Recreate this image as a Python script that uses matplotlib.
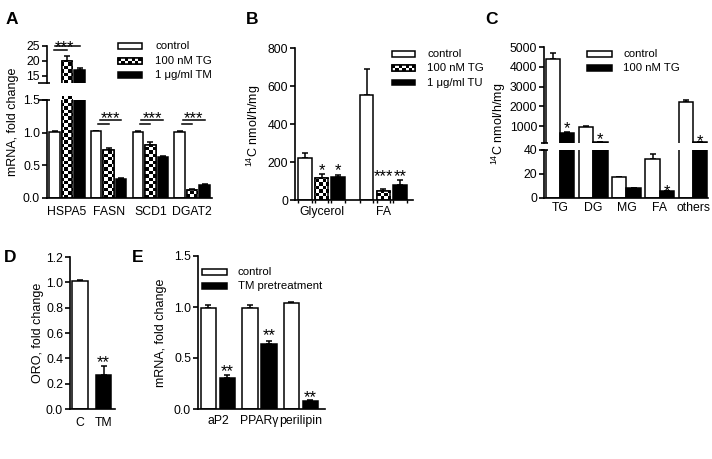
import numpy as np
import matplotlib
matplotlib.use('Agg')
import matplotlib.pyplot as plt
from matplotlib.patches import Rectangle

plt.rcParams['font.family'] = ['Liberation Sans', 'DejaVu Sans']
plt.rcParams['mathtext.fontset'] = 'custom'
plt.rcParams['mathtext.rm'] = 'Liberation Sans'
plt.rcParams['mathtext.it'] = 'Liberation Sans:italic'

# ---- data ----
# A: mRNA fold change
a_genes = ['HSPA5', 'FASN', 'SCD1', 'DGAT2']
a_ctrl = [1.01, 1.02, 1.01, 1.01]
a_ctrl_err = [0.01, 0.01, 0.01, 0.01]
a_tg = [20.1, 0.73, 0.81, 0.13]
a_tg_err = [1.6, 0.04, 0.05, 0.01]
a_tm = [16.8, 0.29, 0.63, 0.20]
a_tm_err = [0.6, 0.01, 0.01, 0.01]

# B: 14C incorporation
b_groups = ['Glycerol', 'FA']
b_ctrl = [220, 555]
b_ctrl_err = [28, 137]
b_tg = [117, 48]
b_tg_err = [22, 8]
b_tu = [122, 79]
b_tu_err = [12, 26]
b_stars_tg = ['*', '***']
b_stars_tu = ['*', '**']

# C: lipid species
c_groups = ['TG', 'DG', 'MG', 'FA', 'others']
c_ctrl = [4380, 960, 17.5, 32.5, 2230]
c_ctrl_err = [330, 25, 0.4, 4.0, 90]
c_tg = [650, 190, 8.0, 5.5, 190]
c_tg_err = [50, 0, 0.4, 0.5, 0]
c_stars = ['*', '*', '', '*', '*']

# D: ORO
d_labels = ['C', 'TM']
d_vals = [1.01, 0.27]
d_err = [0.01, 0.07]

# E: adipogenic markers
e_genes = ['aP2', 'PPAR\u03b3', 'perilipin']
e_ctrl = [0.99, 0.99, 1.04]
e_ctrl_err = [0.03, 0.03, 0.01]
e_tm = [0.30, 0.64, 0.075]
e_tm_err = [0.03, 0.03, 0.01]

W, H = 712, 459
fig = plt.figure(figsize=(W / 100, H / 100), dpi=100)
LW = 1.2
CELL = 3.4


def add_ax(l, t, r, b):
    ax = fig.add_axes([l / W, 1 - b / H, (r - l) / W, (b - t) / H])
    ax.set_facecolor('none')
    for s in ['top', 'right']:
        ax.spines[s].set_visible(False)
    for s in ['left', 'bottom']:
        ax.spines[s].set_linewidth(LW)
    ax.tick_params(axis='y', length=3.5, width=LW, labelsize=8.8, pad=1.5)
    ax.tick_params(axis='x', length=0, labelsize=8.8)
    return ax


def checker(ax, patch, transform, extent, nx, ny):
    arr = np.indices((ny, nx)).sum(axis=0) % 2
    im = ax.imshow(arr, cmap='gray', vmin=0, vmax=1, interpolation='nearest',
                   aspect='auto', extent=extent, transform=transform,
                   zorder=patch.get_zorder() + 0.1)
    im.set_clip_path(patch)


def bars(ax, x, vals, errs, width, kind):
    fc = 'black' if kind == 'black' else 'white'
    b = ax.bar(x, vals, width, color=fc, edgecolor='black', linewidth=1.1, zorder=2)
    if kind == 'check':
        pos = ax.get_position()
        wpx, hpx = pos.width * W, pos.height * H
        nx, ny = int(wpx / CELL) + 2, int(hpx / CELL) + 2
        for p in b:
            checker(ax, p, ax.transAxes, (0, nx * CELL / wpx, 0, ny * CELL / hpx), nx, ny)
        ax.bar(x, vals, width, fill=False, edgecolor='black', linewidth=1.1, zorder=2.5)
    ax.errorbar(x, vals, yerr=[np.zeros(len(vals)), errs], fmt='none', ecolor='black',
                elinewidth=1.1, capsize=2.5, capthick=1.1, zorder=1.5)


def stub(ax, y, left_px, right_px):
    wpx = ax.get_position().width * W
    ax.plot([-left_px / wpx, right_px / wpx], [y, y], transform=ax.transAxes,
            color='black', lw=LW, clip_on=False, solid_capstyle='butt')


def star(ax, s, x, y, size=12):
    ax.annotate(s, (x, y), xytext=(0, -3.8), textcoords='offset points',
                ha='center', va='center', fontsize=size, annotation_clip=False)


# ---------- Panel A ----------
xa = np.arange(len(a_genes))
wa, oa = 0.25, 0.30
axA_top = add_ax(47, 46, 212, 83)
axA = add_ax(47, 100, 212, 198)
for ax in (axA_top, axA):
    bars(ax, xa - oa, a_ctrl, a_ctrl_err, wa, 'white')
    bars(ax, xa, a_tg, a_tg_err, wa, 'check')
    bars(ax, xa + oa, a_tm, a_tm_err, wa, 'black')
    ax.set_xlim(-0.48, 3.48)
axA_top.set_ylim(12.5, 25)
axA_top.set_yticks([15, 20, 25])
axA_top.spines['bottom'].set_visible(False)
axA_top.set_xticks([])
stub(axA_top, 0, 9, 3)
axA.set_ylim(0, 1.5)
axA.set_yticks([0, 0.5, 1.0, 1.5], ['0.0', '0.5', '1.0', '1.5'])
axA.set_xticks(xa, a_genes)
axA.tick_params(axis='x', pad=5.5)
stub(axA, 1, 9, 3)
# significance
axA_top.plot([-0.3, 0.3], [25.0, 25.0], color='black', lw=1.1, clip_on=False)
axA_top.plot([-0.32, 0.0], [23.7, 23.7], color='black', lw=1.1, clip_on=False)
star(axA_top, '***', -0.05, 26.4)
for g in xa[1:]:
    axA.plot([g - 0.22, g + 0.3], [1.20, 1.20], color='black', lw=1.1)
    axA.plot([g - 0.25, g], [1.14, 1.14], color='black', lw=1.1)
    star(axA, '***', g + 0.04, 1.29)

# ---------- Panel B ----------
xb = np.arange(len(b_groups))
wb, ob = 0.22, 0.27
axB = add_ax(295, 48, 413, 200)
bars(axB, xb - ob, b_ctrl, b_ctrl_err, wb, 'white')
bars(axB, xb, b_tg, b_tg_err, wb, 'check')
bars(axB, xb + ob, b_tu, b_tu_err, wb, 'black')
axB.set_xlim(-0.43, 1.48)
axB.set_ylim(0, 800)
axB.set_yticks([0, 200, 400, 600, 800])
axB.set_xticks(xb, b_groups)
edges = np.concatenate([xb + o + s * wb / 2 for o in (-ob, 0, ob) for s in (-1, 1)])
axB.set_xticks(edges, minor=True)
axB.tick_params(axis='x', which='minor', length=2.5, width=1.0)
axB.tick_params(axis='x', which='major', pad=4.5)
b_star_y = [180, 149]
for i in range(len(b_groups)):
    star(axB, b_stars_tg[i], xb[i], b_star_y[i])
    star(axB, b_stars_tu[i], xb[i] + ob, b_star_y[i])

# ---------- Panel C ----------
xc = np.arange(len(c_groups))
wc, oc = 0.43, 0.215
axC_top = add_ax(544, 47, 708, 143)
axC = add_ax(544, 150, 708, 198)
for ax in (axC_top, axC):
    bars(ax, xc - oc, c_ctrl, c_ctrl_err, wc, 'white')
    bars(ax, xc + oc, c_tg, c_tg_err, wc, 'black')
    ax.set_xlim(-0.48, 4.45)
axC_top.set_ylim(140, 5000)
axC_top.set_yticks([1000, 2000, 3000, 4000, 5000])
axC_top.spines['bottom'].set_visible(False)
axC_top.set_xticks([])
stub(axC_top, 0, 3, 4)
axC.set_ylim(0, 40)
axC.set_yticks([0, 20, 40])
axC.set_xticks(xc, c_groups)
axC.tick_params(axis='x', pad=3)
stub(axC, 1, 3, 4)
c_star_top_y = [1137, 595, None, None, 458]
for i, s in enumerate(c_stars):
    if not s:
        continue
    if c_star_top_y[i] is not None:
        star(axC_top, s, xc[i] + oc, c_star_top_y[i])
    else:
        star(axC, s, xc[i] + oc, 10)

# ---------- Panel D ----------
xd = np.arange(len(d_labels))
axD = add_ax(70, 257, 115, 409)
axD.bar(xd, d_vals, 0.68, color=['white', 'black'], edgecolor='black',
        linewidth=1.1, zorder=2)
axD.errorbar(xd, d_vals, yerr=[np.zeros(2), d_err], fmt='none', ecolor='black',
             elinewidth=1.1, capsize=2.5, capthick=1.1, zorder=1.5)
axD.set_xlim(-0.43, 1.49)
axD.set_ylim(0, 1.2)
axD.set_yticks(np.arange(0, 1.21, 0.2), ['0.0', '0.2', '0.4', '0.6', '0.8', '1.0', '1.2'])
axD.set_xticks(xd, d_labels)
axD.tick_params(axis='x', pad=5.5)
star(axD, '**', 1, 0.41)

# ---------- Panel E ----------
xe = np.arange(len(e_genes))
we, oe = 0.37, 0.23
axE = add_ax(198, 256, 325, 409)
bars(axE, xe - oe, e_ctrl, e_ctrl_err, we, 'white')
bars(axE, xe + oe, e_tm, e_tm_err, we, 'black')
axE.set_xlim(-0.48, 2.58)
axE.set_ylim(0, 1.5)
axE.set_yticks([0, 0.5, 1.0, 1.5], ['0.0', '0.5', '1.0', '1.5'])
axE.set_xticks(xe, e_genes)
axE.tick_params(axis='x', pad=4)
e_star_y = [0.42, 0.77, 0.16]
for i in range(len(e_genes)):
    star(axE, '**', xe[i] + oe, e_star_y[i])

# ---------- overlay: panel letters, y labels, legends ----------
ov = fig.add_axes([0, 0, 1, 1], zorder=10)
ov.set_facecolor('none')
ov.axis('off')


def legend(x0, x1, ys, labels, kinds, xt):
    for y, lab, kind in zip(ys, labels, kinds):
        r = Rectangle((x0, y - 2.8), x1 - x0, 5.6, facecolor='black' if kind == 'black' else 'white',
                      edgecolor='black', linewidth=1.1, zorder=2)
        ov.add_patch(r)
        if kind == 'check':
            nx = int((x1 - x0) / CELL) + 1
            checker(ov, r, ov.transData, (x0, x0 + nx * CELL, y + 2.8, y - 2.8), nx, 2)
            ov.add_patch(Rectangle((x0, y - 2.8), x1 - x0, 5.6, fill=False,
                                   edgecolor='black', linewidth=1.1, zorder=3))
        ov.text(xt, y, lab, ha='left', va='center', fontsize=8.2)


legend(118, 142, [46, 61, 75], ['control', '100 nM TG', '1 \u03bcg/ml TM'],
       ['white', 'check', 'black'], 155)
legend(392, 415, [54, 68, 82.5], ['control', '100 nM TG', '1 \u03bcg/ml TU'],
       ['white', 'check', 'black'], 427)
legend(587, 612, [54, 68], ['control', '100 nM TG'], ['white', 'black'], 623)
legend(202, 227, [272, 286], ['control', 'TM pretreatment'], ['white', 'black'], 238)

for lab, x, y in [('A', 12, 20), ('B', 252, 20), ('C', 492, 20), ('D', 10, 258), ('E', 138, 258)]:
    ov.text(x, y, lab, ha='center', va='center', fontsize=12.5, fontweight='bold')

ylab = '$^{14}$C nmol/h/mg'
for lab, x, y in [('mRNA, fold change', 13, 122), (ylab, 254, 126), (ylab, 499, 124),
                  ('ORO, fold change', 38, 333), ('mRNA, fold change', 161, 333)]:
    ov.text(x, y, lab, ha='center', va='center', rotation=90, fontsize=9)

ov.set_xlim(0, W)
ov.set_ylim(H, 0)

fig.savefig('out.png', dpi=100)
